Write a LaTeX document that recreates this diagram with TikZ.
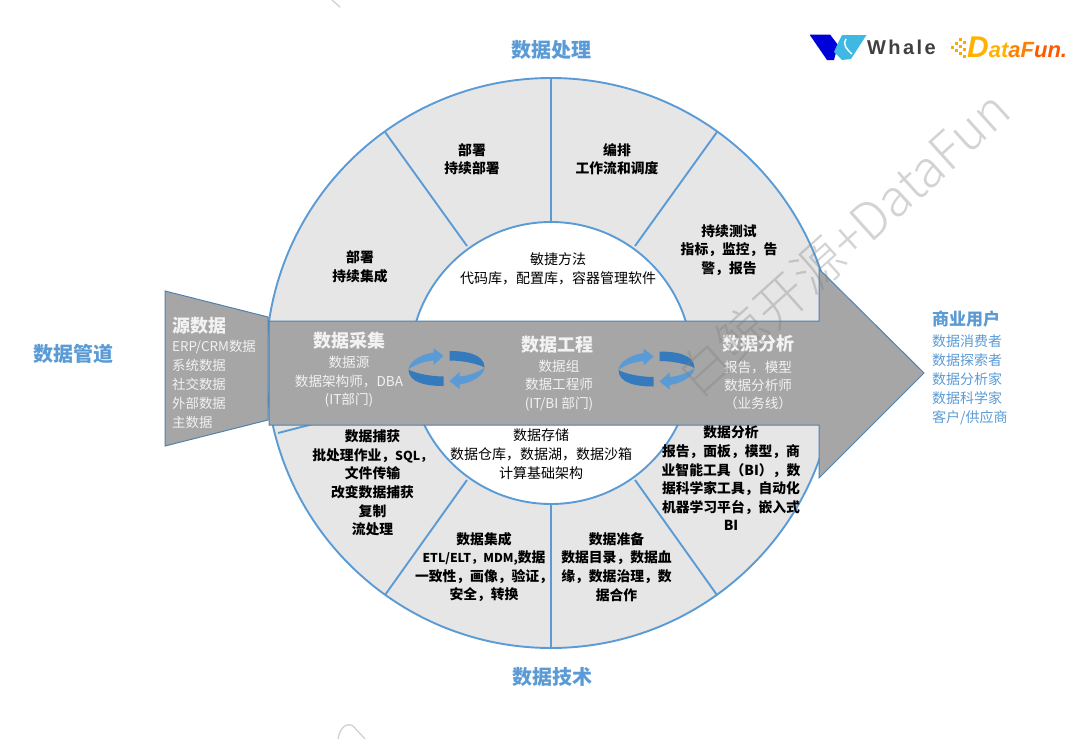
\documentclass[tikz,border=0pt]{standalone}
\usepackage{fontspec}
\setmainfont{Noto Sans CJK SC}
\newfontfamily\wmfont{Noto Sans CJK SC Light}
\newfontfamily\logofont[LetterSpace=12]{Liberation Sans}
\newfontfamily\funfont{Liberation Sans}
\usepackage{tikz}
\usetikzlibrary{positioning}
\definecolor{flowblue}{RGB}{91,155,213}
\definecolor{flowdark}{RGB}{52,122,188}
\definecolor{edgeblue}{RGB}{80,130,175}
\definecolor{sectorgrey}{RGB}{231,230,230}
\definecolor{arrowgrey}{RGB}{166,166,166}
\definecolor{softwhite}{RGB}{242,242,242}
\begin{document}
\begin{tikzpicture}[x=1pt, y=-1pt,
  headline/.style={font=\fontsize{20}{24}\selectfont\bfseries, text=flowblue, inner sep=0pt},
  sector/.style={font=\fontsize{13.8}{18.6}\selectfont\bfseries, align=center, inner sep=0pt},
  core/.style={font=\fontsize{14}{19}\selectfont, align=center, inner sep=0pt},
  bandtitle/.style={font=\fontsize{18}{22}\selectfont\bfseries, text=softwhite, inner sep=0pt},
  bandtext/.style={font=\fontsize{13.6}{18.4}\selectfont, text=softwhite, align=center, inner sep=0pt},
  ringline/.style={draw=flowblue, line width=1.9pt},
  wmline/.style={draw=gray, opacity=.35, line width=1.4pt, line cap=round}]
 \useasboundingbox (0,0) rectangle (1080,739);
 % ring
 \coordinate (hub) at (551,363);
 \filldraw[ringline, fill=sectorgrey] (hub) circle [radius=285pt];
 \draw[ringline] (551,78) -- (551,222);
 \draw[ringline] (551,505) -- (551,649);
 \draw[ringline] (385,132) -- (467,246);
 \draw[ringline] (717,132) -- (635,246);
 \draw[ringline] (385,595) -- (467,480);
 \draw[ringline] (717,595) -- (635,480);
 \draw[ringline] (278,433) -- (415,398);
 \filldraw[ringline, fill=white] (hub) circle [radius=141pt];
 % source and main arrow
 \filldraw[draw=edgeblue, line width=1pt, fill=arrowgrey] (165,291) -- (268,317) -- (268,420) -- (165,446) -- cycle;
 \filldraw[draw=edgeblue, line width=1pt, fill=arrowgrey] (269,321) -- (819,321) -- (819,269) -- (924,373) -- (819,478) -- (819,425) -- (269,425) -- cycle;
 % cycle arrows
 \foreach \cx/\cy in {446.5/368.5, 656.5/369}{
  \foreach \turn in {0,180}{
   \begin{scope}[shift={(\cx,\cy)}, rotate=\turn]
    \fill[flowdark] (-3,17.5) .. controls (-18,17.5) and (-38,15) .. (-38,1) .. controls (-33,4) and (-18,8) .. (-3,8) -- cycle;
    \fill[flowblue] (-38,1) .. controls (-38,-6) and (-27,-14) .. (-13,-16) -- (-13,-20.5) -- (-3,-12.5) -- (-13,-3.5) -- (-13,-8) .. controls (-24,-7) and (-33,-3) .. (-38,1) -- cycle;
   \end{scope}
  }
 }
 % outer captions
 \node[headline] (process) at (551,50) {数据处理};
 \node[headline] (tech) at (552,677) {数据技术};
 \node[headline] (pipeline) at (74,354) {数据管道};
 \node[bandtitle, anchor=west] (source) at (172,325.5) {源数据};
 \node[bandtext, font=\fontsize{13.4}{19}\selectfont, align=left, anchor=north west] (sourcelist) at (172,340) {ERP/CRM数据\\系统数据\\社交数据\\外部数据\\主数据};
 \node[font=\fontsize{17}{20}\selectfont\bfseries, text=flowblue, anchor=west, inner sep=0pt] (users) at (932,319) {商业用户};
 \node[font=\fontsize{14}{19}\selectfont, text=flowblue, align=left, anchor=north west, inner sep=0pt] (userlist) at (932,334.5) {数据消费者\\数据探索者\\数据分析家\\数据科学家\\客户/供应商};
 % band
 \node[bandtitle] (collect) at (349,341) {数据采集};
 \node[bandtext] (collecttext) at (349,382) {数据源\\数据架构师，DBA\\(IT部门)};
 \node[bandtitle] (engineer) at (557,345) {数据工程};
 \node[bandtext] (engineertext) at (559,385.5) {数据组\\数据工程师\\(IT/BI 部门)};
 \node[bandtitle] (analysis) at (758,344) {数据分析};
 \node[bandtext] (analysistext) at (758,385.5) {报告，模型\\数据分析师\\（业务线）};
 % sectors
 \node[sector] (integrate) at (360,266.5) {部署\\持续集成};
 \node[sector] (deploy) at (472,159) {部署\\持续部署};
 \node[sector] (orchestrate) at (617,159) {编排\\工作流和调度};
 \node[sector] (testing) at (729,250) {持续测试\\指标，监控，告\\警，报告};
 \node[core] (agile) at (558,268.5) {敏捷方法\\代码库，配置库，容器管理软件};
 \node[core] (storage) at (541,454) {数据存储\\数据仓库，数据湖，数据沙箱\\计算基础架构};
 \node[sector] (capture) at (372.5,483) {数据捕获\\批处理作业，{\fontsize{12.4}{18.6}\selectfont SQL，}\\文件传输\\改变数据捕获\\复制\\流处理};
 \node[sector] (integration) at (484,567) {数据集成\\{\fontsize{12.2}{18.6}\selectfont ETL/ELT，MDM,}数据\\一致性，画像，验证，\\安全，转换};
 \node[sector] (prepare) at (616.5,567) {数据准备\\数据目录，数据血\\缘，数据治理，数\\据合作};
 \node[sector] (reports) at (731,478.5) {数据分析\\报告，面板，模型，商\\业智能工具（BI），数\\据科学家工具，自动化\\机器学习平台，嵌入式\\BI};
 % logos
 \fill[blue!85!black] (809.5,34.5) -- (830,34.5) -- (838,45) -- (834,60) -- (827,60) -- cycle;
 \fill[flowblue!70!cyan] (842,35) -- (866.5,35) -- (851,59) -- (842,60) -- (834,52) -- (838,43) -- cycle;
 \draw[white, line width=1.4pt] (846,39) .. controls (842,46) and (848,50) .. (852,54);
 \node[font=\fontsize{20}{24}\logofont\bfseries, text=black!75, anchor=west, inner sep=0pt] (whale) at (867,47) {Whale};
 \foreach \dotx/\doty in {951/46, 955/42, 959/38, 955/49, 959/45, 963/41, 959/52, 963/48, 963/55}{
  \fill[orange!70!yellow] (\dotx,\doty) rectangle ++(2.6,2.6);
 }
 \node[font=\fontsize{22}{24}\funfont\bfseries\itshape, anchor=base west, inner sep=0pt] (datafun) at (967,57.5) {\textcolor{orange!60!yellow}{{\fontsize{30}{30}\selectfont D}at}\textcolor{orange}{aF}\textcolor{orange!70!red}{un.}};
 % watermark
 \node[font=\fontsize{51}{60}\wmfont, text=gray, text opacity=.35, rotate=42, inner sep=0pt] (mark) at (843,243) {白鲸开源+DataFun};
 \draw[wmline] (332,0) -- (340,7);
 \draw[wmline] (338,739) .. controls (340,728) and (346,722) .. (353,726) -- (365,739);
\end{tikzpicture}
\end{document}
